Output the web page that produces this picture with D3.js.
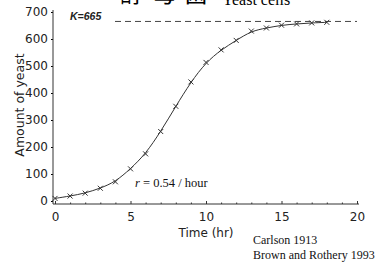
<!DOCTYPE html>
<html lang="en">
<head>
<meta charset="utf-8"/>
<title>Yeast growth</title>
<script src="https://d3js.org/d3.v7.min.js"></script>
<style>
  body { margin: 0; background: #fff; }
  svg { display: block; }
</style>
</head>
<body>
<script>
// Carlson 1913 yeast data (hours, amount of yeast)
var hours = [0, 1, 2, 3, 4, 5, 6, 7, 8, 9, 10, 11, 12, 13, 14, 15, 16, 17, 18];
var yeast = [9.6, 18.3, 29.0, 47.2, 71.1, 119.1, 174.6, 257.3, 350.7, 441.0, 513.3, 559.7, 594.8, 629.4, 640.8, 651.1, 655.9, 659.6, 661.8];
var xTicks = [0, 5, 10, 15, 20];
var yTicks = [0, 100, 200, 300, 400, 500, 600, 700];
var K = 665;

var w = 385, h = 263;
var ink = "#333";

var svg = d3.select("body").append("svg")
    .attr("width", w)
    .attr("height", h);

var x = d3.scaleLinear().domain([0, 20]).range([55, 357]);
var y = d3.scaleLinear().domain([0, 700]).range([201, 12]);

// title, cut off at the top edge as in the scan
svg.append("text")
    .attr("x", 120).attr("y", 2)
    .attr("font-family", "Noto Sans CJK SC")
    .attr("font-size", 24)
    .attr("letter-spacing", 8)
    .attr("fill", "#000")
    .text("酵母菌");
svg.append("text")
    .attr("x", 222).attr("y", 5)
    .attr("font-family", "Liberation Serif")
    .attr("font-size", 16)
    .attr("fill", "#000")
    .text("Yeast cells");

// y axis
var yAxis = svg.append("g")
    .attr("transform", "translate(53,0)")
    .call(d3.axisLeft(y).tickValues(yTicks).tickSize(2).tickPadding(3));
yAxis.select(".domain").remove();
yAxis.append("line").attr("x1", 0).attr("x2", 0).attr("y1", 10).attr("y2", 204)
    .attr("stroke", ink);
yAxis.selectAll("text")
    .attr("font-family", "DejaVu Sans").attr("font-size", 12).attr("fill", "#222");

// x axis with minor ticks
var xAxis = svg.append("g")
    .attr("transform", "translate(0,204)")
    .call(d3.axisBottom(x).tickValues(d3.range(0, 21)).tickSize(-2)
        .tickFormat(function(d) { return xTicks.indexOf(d) >= 0 ? d : ""; }).tickPadding(8));
xAxis.select(".domain").remove();
xAxis.append("line").attr("x1", 53).attr("x2", 359).attr("stroke", ink);
xAxis.selectAll(".tick line")
    .attr("y2", function(d) { return xTicks.indexOf(d) >= 0 ? -3 : -1.5; })
    .attr("stroke", ink);
xAxis.selectAll("text")
    .attr("font-family", "DejaVu Sans").attr("font-size", 12).attr("fill", "#222");

// axis titles
svg.append("text")
    .attr("transform", "translate(24,105) rotate(-90)")
    .attr("text-anchor", "middle")
    .attr("font-family", "DejaVu Sans").attr("font-size", 12.5).attr("fill", "#222")
    .text("Amount of yeast");
svg.append("text")
    .attr("x", 206).attr("y", 237)
    .attr("text-anchor", "middle")
    .attr("font-family", "DejaVu Sans").attr("font-size", 12).attr("fill", "#222")
    .text("Time (hr)");

// carrying capacity
svg.append("line")
    .attr("x1", 115).attr("x2", 357)
    .attr("y1", y(K)).attr("y2", y(K))
    .attr("stroke", "#444").attr("stroke-dasharray", "6,4");
svg.append("text")
    .attr("x", 70).attr("y", 20)
    .attr("font-family", "Liberation Sans").attr("font-weight", "bold")
    .attr("font-style", "italic").attr("font-size", 10.5).attr("fill", "#222")
    .text("K=665");

// growth curve
var pts = hours.map(function(d, i) { return [d, yeast[i]]; });
svg.append("path")
    .datum(pts)
    .attr("fill", "none").attr("stroke", ink).attr("stroke-width", 1)
    .attr("d", d3.line()
        .x(function(d) { return x(d[0]); })
        .y(function(d) { return y(d[1]); })
        .curve(d3.curveBasis));

// x markers
svg.selectAll(".mk")
    .data(pts)
    .enter()
    .append("path")
    .attr("class", "mk")
    .attr("transform", function(d) { return "translate(" + x(d[0]) + "," + y(d[1]) + ")"; })
    .attr("d", "M-2.5,-2.5L2.5,2.5M-2.5,2.5L2.5,-2.5")
    .attr("stroke", ink).attr("stroke-width", 1);

// annotations
var rt = svg.append("text")
    .attr("x", 135).attr("y", 187)
    .attr("font-family", "Liberation Serif").attr("font-size", 12.5).attr("fill", "#111");
rt.append("tspan").attr("font-style", "italic").text("r");
rt.append("tspan").text(" = 0.54 / hour");

svg.append("text")
    .attr("x", 253).attr("y", 244)
    .attr("font-family", "Liberation Serif").attr("font-size", 12).attr("fill", "#111")
    .text("Carlson 1913");
svg.append("text")
    .attr("x", 253).attr("y", 259)
    .attr("font-family", "Liberation Serif").attr("font-size", 12).attr("fill", "#111")
    .text("Brown and Rothery 1993");
</script>
</body>
</html>
